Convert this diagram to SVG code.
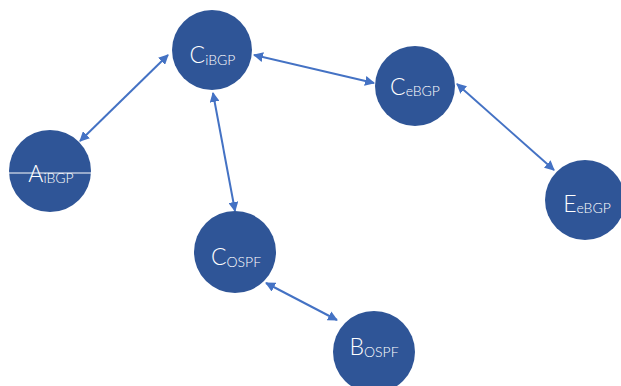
<svg xmlns="http://www.w3.org/2000/svg" width="621" height="386" viewBox="0 0 621 386">
  <style>
    .node { fill: #2F5597; }
    .lbl { fill: #ffffff; font-family: Lato, "Liberation Sans", sans-serif; font-weight: 300; text-anchor: middle; }
    .main { font-size: 23px; }
    .sub { font-size: 14px; }
    .link { stroke: #4472C4; stroke-width: 2; fill: none; marker-start: url(#head); marker-end: url(#head); }
  </style>
  <defs>
    <marker id="head" viewBox="0 0 10 10" refX="9" refY="5" markerWidth="5" markerHeight="5" orient="auto-start-reverse" markerUnits="strokeWidth">
      <path d="M0,0 L10,5 L0,10 Z" fill="#4472C4"/>
    </marker>
  </defs>
  <rect width="621" height="386" fill="#ffffff"/>

  <g id="connectors">
    <line class="link" x1="80" y1="141" x2="168" y2="55"/>
    <line class="link" x1="254" y1="55" x2="374" y2="83"/>
    <line class="link" x1="213" y1="93" x2="235" y2="211"/>
    <line class="link" x1="457" y1="84" x2="554" y2="170"/>
    <line class="link" x1="266" y1="283" x2="337" y2="320"/>
  </g>

  <g id="A_iBGP">
    <circle class="node" cx="50" cy="171" r="41"/>
    <line x1="8" y1="173" x2="91" y2="173" stroke="#ffffff" stroke-width="1"/>
    <text class="lbl" x="51" y="181.5"><tspan class="main">A</tspan><tspan class="sub" dy="1.5">iBGP</tspan></text>
  </g>

  <g id="C_iBGP">
    <circle class="node" cx="212" cy="50" r="40"/>
    <text class="lbl" x="212.5" y="63"><tspan class="main">C</tspan><tspan class="sub" dy="1.5">iBGP</tspan></text>
  </g>

  <g id="C_eBGP">
    <circle class="node" cx="415" cy="86" r="40"/>
    <text class="lbl" x="415" y="94.5"><tspan class="main">C</tspan><tspan class="sub" dy="1.5">eBGP</tspan></text>
  </g>

  <g id="E_eBGP">
    <circle class="node" cx="585" cy="200" r="40"/>
    <text class="lbl" x="587" y="211.5"><tspan class="main">E</tspan><tspan class="sub" dy="1.5">eBGP</tspan></text>
  </g>

  <g id="C_OSPF">
    <circle class="node" cx="235" cy="252" r="41"/>
    <text class="lbl" x="236" y="265"><tspan class="main">C</tspan><tspan class="sub" dy="1.5">OSPF</tspan></text>
  </g>

  <g id="B_OSPF">
    <circle class="node" cx="374" cy="352" r="41"/>
    <text class="lbl" x="374" y="355"><tspan class="main">B</tspan><tspan class="sub" dy="2">OSPF</tspan></text>
  </g>
</svg>
